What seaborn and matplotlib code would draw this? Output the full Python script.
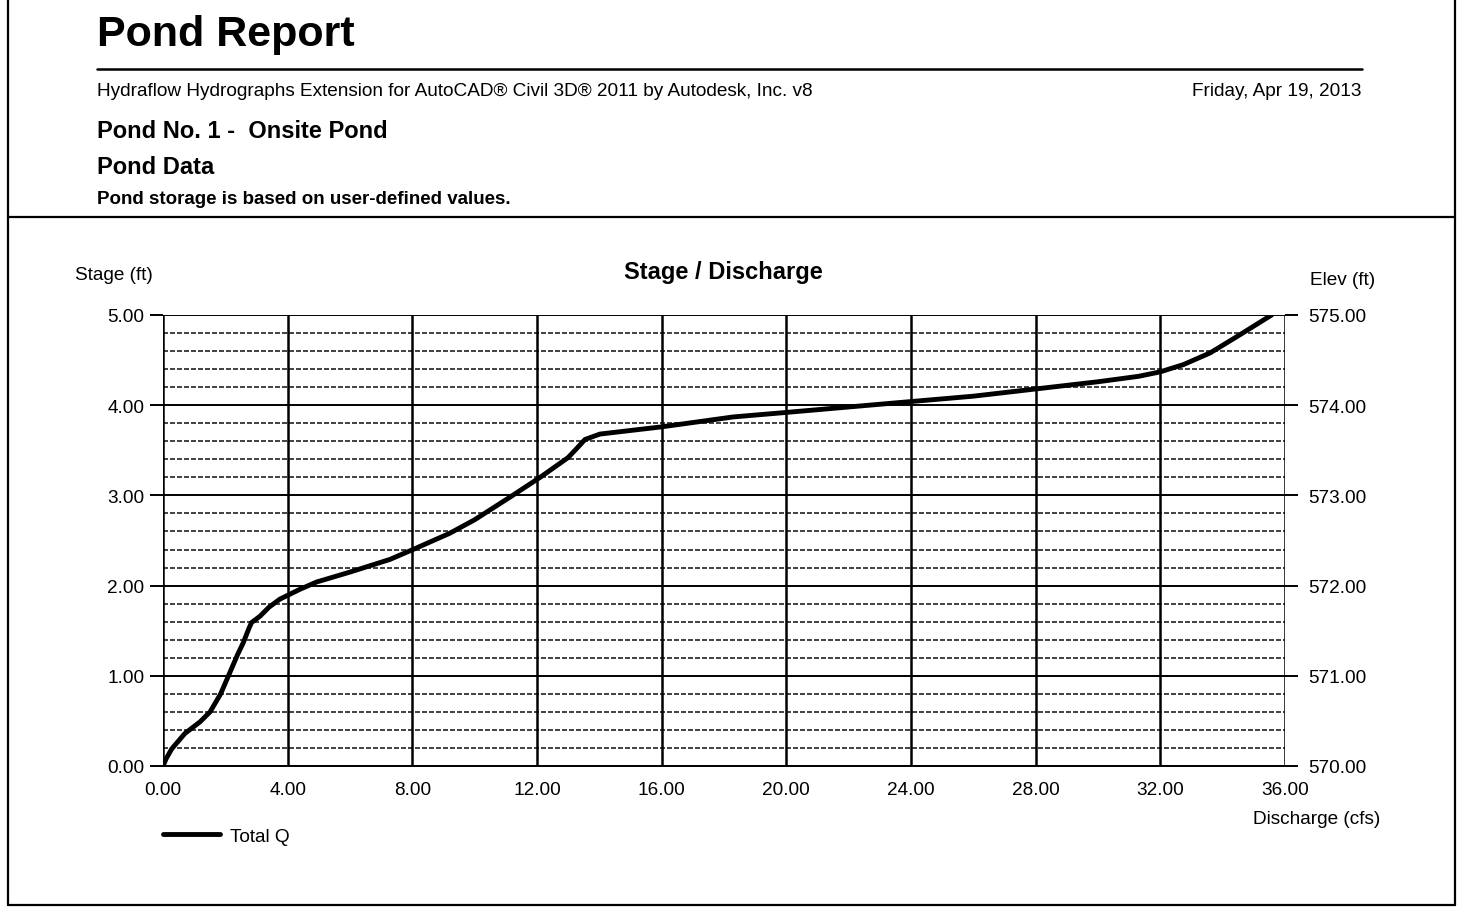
import numpy as np
import pandas as pd
import matplotlib
matplotlib.use("Agg")
import matplotlib.pyplot as plt
from matplotlib.lines import Line2D
import seaborn as sns

# ---- data ----
discharge = [0.0, 0.1, 0.28, 0.7, 1.19, 1.51, 1.85, 2.15, 2.4, 2.58, 2.75, 2.84, 3.11, 3.4,
             3.75, 4.4, 4.93, 6.0, 7.28, 8.02, 9.2, 10.0, 11.13, 12.1, 13.0, 13.3, 13.54,
             14.02, 16.0, 18.3, 20.0, 23.65, 26.0, 28.0, 30.0, 31.3, 32.0, 32.74, 33.6,
             34.55, 35.57]
stage = [0.0, 0.08, 0.19, 0.36, 0.49, 0.6, 0.8, 1.04, 1.24, 1.37, 1.52, 1.59, 1.66, 1.76,
         1.85, 1.96, 2.04, 2.15, 2.29, 2.4, 2.58, 2.73, 2.98, 3.2, 3.42, 3.53, 3.62,
         3.68, 3.76, 3.87, 3.92, 4.03, 4.1, 4.18, 4.26, 4.32, 4.37, 4.45, 4.58,
         4.78, 5.0]
x_ticks = [0, 4, 8, 12, 16, 20, 24, 28, 32, 36]
y_ticks = [0, 1, 2, 3, 4, 5]
elev_ticks = [570, 571, 572, 573, 574, 575]

df = pd.DataFrame({"Discharge": discharge, "Stage": stage})

sns.set_style("white")
plt.rcParams["font.family"] = ["Liberation Sans", "DejaVu Sans"]
for k in ["text.color", "axes.labelcolor", "xtick.color", "ytick.color"]:
    plt.rcParams[k] = "black"

W, H = 1467, 920
fig = plt.figure(figsize=(W / 100, H / 100), dpi=100)

def fx(px):
    return px / W

def fy(py):
    return 1 - py / H

ax = fig.add_axes([fx(163), fy(767), fx(1285) - fx(163), fy(316) - fy(767)])

# minor dashed grid lines
for v in np.arange(0.2, 5.0, 0.2):
    if abs(v - round(v)) > 1e-6:
        ax.axhline(v, color="#222222", lw=1.2, ls=(0, (3, 1.2)), zorder=1)
for v in y_ticks:
    ax.axhline(v, color="black", lw=1.4, zorder=1)
for v in x_ticks:
    ax.axvline(v, color="black", lw=1.8, zorder=1)

sns.lineplot(data=df, x="Discharge", y="Stage", sort=False, estimator=None,
             color="black", lw=3.5, ax=ax, legend=False, zorder=3)

TS = 13.7
ax.set_xlim(0, 36)
ax.set_ylim(0, 5)
ax.set_xticks(x_ticks)
ax.set_xticklabels([f"{v:.2f}" for v in x_ticks], fontsize=TS)
ax.set_yticks(y_ticks)
ax.set_yticklabels([f"{v:.2f}" for v in y_ticks], fontsize=TS)
ax.tick_params(axis="x", length=0, pad=11)
ax.tick_params(axis="y", length=9.5, width=1.4, direction="out", pad=4, left=True)
ax.set_xlabel("")
ax.set_ylabel("")
for s in ["top", "right", "left"]:
    ax.spines[s].set_visible(False)
ax.spines["bottom"].set_linewidth(1.4)
ax.spines["bottom"].set_color("black")

ax2 = ax.twinx()
ax2.set_ylim(570, 575)
ax2.set_yticks(elev_ticks)
ax2.set_yticklabels([f"{v:.2f}" for v in elev_ticks], fontsize=TS)
ax2.tick_params(axis="y", length=9, width=1.4, direction="out", pad=8, right=True)
for s in ax2.spines.values():
    s.set_visible(False)
ax2.grid(False)

# legend
ax.legend(handles=[Line2D([0], [0], color="black", lw=3.5)], labels=["Total Q"],
          loc="center left", bbox_to_anchor=(fx(163), fy(837)),
          bbox_transform=fig.transFigure, frameon=False, fontsize=TS,
          handlelength=3.0, handletextpad=0.5, borderpad=0, borderaxespad=0)

# axis titles
fig.text(fx(75), fy(275), "Stage (ft)", fontsize=TS, ha="left", va="center")
fig.text(fx(723), fy(272), "Stage / Discharge", fontsize=17, fontweight="bold",
         ha="center", va="center")
fig.text(fx(1310), fy(281), "Elev (ft)", fontsize=TS, ha="left", va="center")
fig.text(fx(1380), fy(820), "Discharge (cfs)", fontsize=TS, ha="right", va="center")

# header texts
fig.text(fx(97), fy(35), "Pond Report", fontsize=31, fontweight="bold", ha="left", va="center")
fig.text(fx(97), fy(92), "Hydraflow Hydrographs Extension for AutoCAD\u00ae Civil 3D\u00ae 2011 by Autodesk, Inc. v8",
         fontsize=13.7, ha="left", va="center")
fig.text(fx(1361), fy(91), "Friday, Apr 19, 2013", fontsize=13.7, ha="right", va="center")
fig.text(fx(97), fy(131), "Pond No. 1 -  Onsite Pond", fontsize=17, fontweight="bold",
         ha="left", va="center")
fig.text(fx(97), fy(167), "Pond Data", fontsize=17, fontweight="bold", ha="left", va="center")
fig.text(fx(97), fy(200), "Pond storage is based on user-defined values.", fontsize=13.5,
         fontweight="bold", ha="left", va="center")

# page lines
def fline(x0, y0, x1, y1, lw=1.6):
    fig.add_artist(Line2D([fx(x0), fx(x1)], [fy(y0), fy(y1)], color="black", lw=lw,
                          transform=fig.transFigure))

fline(97, 70, 1362, 70, 1.8)
fline(8, 218, 1455, 218, 1.6)
fline(8, 0, 8, 906, 1.6)
fline(1455, 0, 1455, 906, 1.6)
fline(8, 906, 1455, 906, 1.6)

fig.savefig("out.png", dpi=100, facecolor="white")
